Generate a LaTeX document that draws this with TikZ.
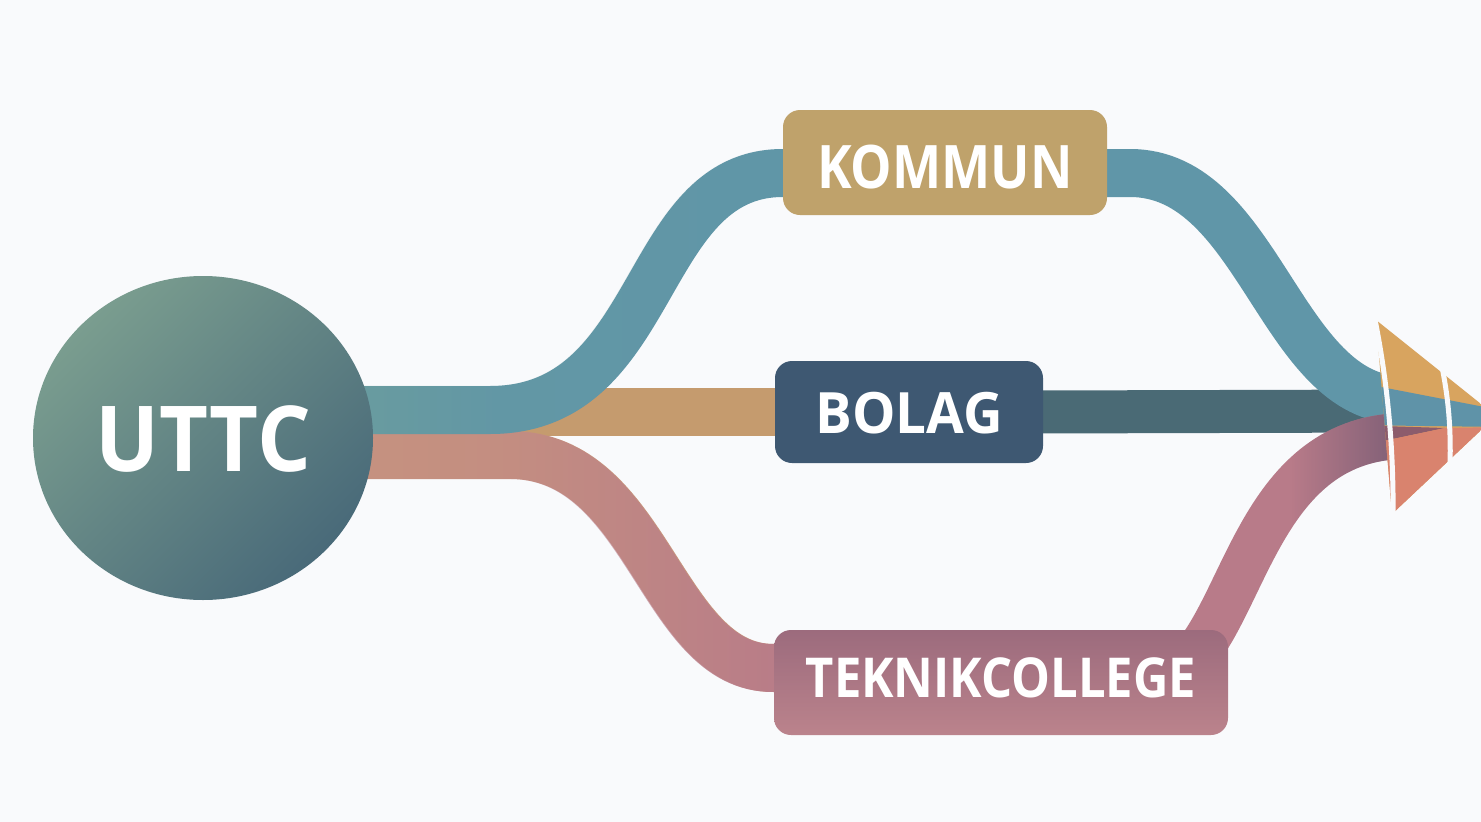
\documentclass[tikz,border=0pt]{standalone}
\usepackage{fontspec}
\setmainfont{Open Sans}
\usetikzlibrary{shapes.geometric,fadings}
\definecolor{bgc}{HTML}{F9FAFC}
\definecolor{circA}{HTML}{7A9D8F}
\definecolor{circB}{HTML}{496A79}
\definecolor{tealband}{HTML}{6096A8}
\definecolor{tealgreen}{HTML}{72A198}
\definecolor{tanband}{HTML}{C59B6E}
\definecolor{salmonband}{HTML}{C9977E}
\definecolor{pinkband}{HTML}{B87B89}
\definecolor{darkband}{HTML}{4A6A75}
\definecolor{mauvedark}{HTML}{6A5570}
\definecolor{kommunc}{HTML}{BFA26B}
\definecolor{bolagc}{HTML}{3E5872}
\definecolor{tekA}{HTML}{9C6B7D}
\definecolor{tekB}{HTML}{BB838C}
\definecolor{arrgold}{HTML}{D8A45F}
\definecolor{arrteal}{HTML}{5F93A8}
\definecolor{arrsalmon}{HTML}{D9836E}
\definecolor{arrmauve}{HTML}{8C5C6C}
\tikzfading[name=fadetoright, left color=transparent!100, right color=transparent!0, middle color=transparent!70]
\tikzfading[name=fadetoleft, left color=transparent!0, right color=transparent!100, middle color=transparent!85]
\tikzfading[name=fadeend, left color=transparent!100, right color=transparent!10, middle color=transparent!100]
\pgfdeclarelayer{bgl}
\pgfdeclarelayer{bands}
\pgfsetlayers{bgl,bands,main}
\begin{document}
\begin{tikzpicture}[x=1pt,y=-1pt,
  band/.style={line width=#1, line cap=butt},
  band/.default=46pt,
  lbl/.style={text=white, font=\bfseries\fontsize{#1}{#1}\selectfont},
  boxc/.style={rectangle, rounded corners=17pt, inner sep=0pt},
  slit/.style={draw=bgc, line width=5pt, line cap=round}]
\begin{pgfonlayer}{bgl}
\fill[bgc] (0,0) rectangle (1481,822);
\end{pgfonlayer}
\useasboundingbox (0,0) rectangle (1481,822);

% nodes
\node[ellipse, minimum width=340pt, minimum height=324pt, inner sep=0pt,
      top color=circA, bottom color=circB, shading angle=45,
      lbl=91pt, text height=67pt, text depth=0pt] (uttc) at (203,438) {\scalebox{0.93}[1]{UTTC}};
\node[boxc, fill=kommunc, minimum width=324pt, minimum height=105pt,
      lbl=60pt, text height=51pt, text depth=0pt] (kommun) at (945,162.5) {\scalebox{0.87}[1]{KOMMUN}};
\node[boxc, fill=bolagc, minimum width=268pt, minimum height=102pt,
      lbl=57pt, text height=42pt, text depth=0pt] (bolag) at (909,412) {\scalebox{0.96}[1]{BOLAG}};
\node[boxc, top color=tekA, bottom color=tekB, minimum width=454pt, minimum height=105pt,
      lbl=55pt, text height=29pt, text depth=0pt] (tek) at (1001,682.5) {\scalebox{0.89}[1]{TEKNIKCOLLEGE}};

% arrow coordinates
\coordinate (aTop) at (1376,320);
\coordinate (aBot) at (1392,514);
\coordinate (aTip) at (1496,416);
\coordinate (aHi) at (1402,400);
\coordinate (aIn) at (1402,411);
\coordinate (aLow) at (1402,436);

\begin{pgfonlayer}{bands}
% tan branch to BOLAG
\draw[band=48pt, tanband] ([yshift=26pt]uttc.center) -- ([xshift=10pt]bolag.west);
% salmon branch to TEKNIKCOLLEGE
\draw[band=48pt, salmonband] ([yshift=-17pt]uttc.center) -- (510,455)
   .. controls (650,455) and (660,668) .. ([yshift=14.5pt]tek.west) -- ([xshift=10pt,yshift=14.5pt]tek.west);
\draw[band=48pt, pinkband, path fading=fadetoright] ([yshift=-17pt]uttc.center) -- (510,455)
   .. controls (650,455) and (660,668) .. ([yshift=14.5pt]tek.west) -- ([xshift=10pt,yshift=14.5pt]tek.west);
% teal branch to KOMMUN
\draw[band=48pt, tealband] ([yshift=28pt]uttc.center) -- (490,410)
   .. controls (660,410) and (640,173) .. ([yshift=-10.5pt]kommun.west) -- ([xshift=10pt,yshift=-10.5pt]kommun.west);
\draw[band=48pt, tealgreen, path fading=fadetoleft] ([yshift=28pt]uttc.center) -- (490,410)
   .. controls (660,410) and (640,173) .. ([yshift=-10.5pt]kommun.west) -- ([xshift=10pt,yshift=-10.5pt]kommun.west);
% BOLAG to arrow
\draw[band=43pt, darkband] ([xshift=-10pt]bolag.east) -- (aIn);
% KOMMUN to arrow
\draw[band=48pt, tealband] ([xshift=-10pt,yshift=-10.5pt]kommun.east) -- (1130,173)
   .. controls (1260,173) and (1280,400) .. (aHi);
% TEKNIKCOLLEGE to arrow
\draw[band=46pt, pinkband] ([xshift=-48pt,yshift=-40pt]tek.north east)
   .. controls (1245,620) and (1255,440) .. (aLow);
\draw[band=46pt, mauvedark, path fading=fadeend] ([xshift=-48pt,yshift=-40pt]tek.north east)
   .. controls (1245,620) and (1255,440) .. (aLow);
\end{pgfonlayer}

% arrowhead
\begin{scope}
\clip (aTop) -- (aTip) -- (aBot) -- cycle;
\fill[arrgold] (1350,300) rectangle (1500,540);
\fill[arrteal] (1350,381) -- (1500,410) -- (1500,427) -- (1350,425) -- cycle;
\fill[arrmauve] (1350,425) -- (1445,428) -- (1350,448) -- cycle;
\fill[arrsalmon] (1350,448) -- (1445,428) -- (1500,427) -- (1500,540) -- (1350,540) -- cycle;
\end{scope}
\draw[slit] (1372,305) .. controls (1388,380) and (1394,450) .. (1393,525);
\draw[slit] (1441,362) .. controls (1449,400) and (1451,430) .. (1450,468);
\end{tikzpicture}
\end{document}
